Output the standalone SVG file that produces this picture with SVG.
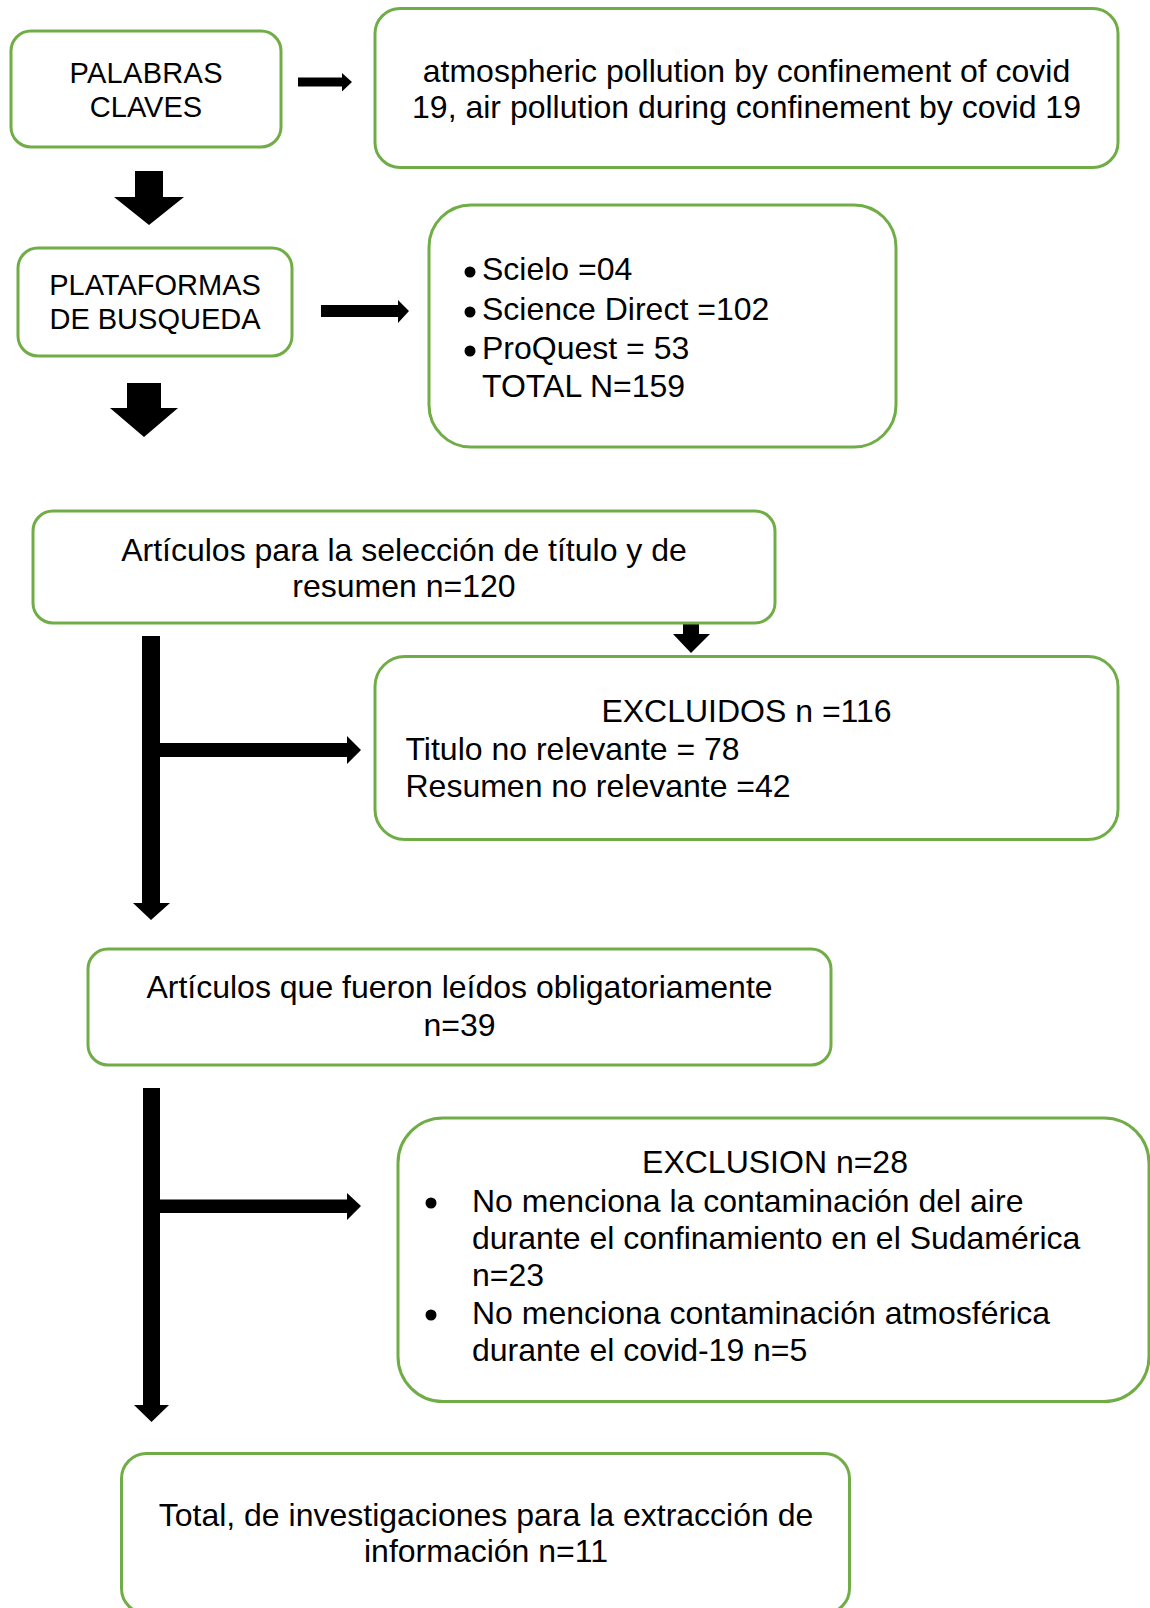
<svg xmlns="http://www.w3.org/2000/svg" width="1150" height="1608" viewBox="0 0 1150 1608">
<style>
.box{fill:#ffffff;stroke:#70AD47;stroke-width:3}
text{font-family:"Liberation Sans",Arial,sans-serif;fill:#000000}
.t32{font-size:32px}
.t29{font-size:29px}
.c{text-anchor:middle}
.arr{fill:#000000}
</style>
<rect width="1150" height="1608" fill="#ffffff"/>
<g id="connectors">
<polygon class="arr" points="298,77.5 342,77.5 342,73 352,82 342,91.5 342,86.5 298,86.5"/>
<polygon class="arr" points="135,171 163,171 163,197 184,197 149,225 114,197 135,197"/>
<polygon class="arr" points="321,305 398,305 398,300 409,311 398,323 398,317 321,317"/>
<polygon class="arr" points="127,383 161,383 161,408 178,408 144,437 110,408 127,408"/>
<polygon class="arr" points="683,617 699,617 699,634 710,634 691,653 673,634 683,634"/>
<polygon class="arr" points="142,636 160,636 160,743 347,743 347,736 361,750 347,764 347,757 160,757 160,903 170,903 151,920 133,903 142,903"/>
<polygon class="arr" points="143,1088 160,1088 160,1199.5 347,1199.5 347,1193 361,1206 347,1220 347,1213 160,1213 160,1405 169,1405 151.5,1422 134,1405 143,1405"/>
</g>
<g id="palabras">
<rect class="box" x="11" y="31" width="270" height="116" rx="20"/>
<text class="t29 c" x="146" y="83" textLength="153" lengthAdjust="spacing">PALABRAS</text>
<text class="t29 c" x="146" y="117">CLAVES</text>
</g>
<g id="keywords">
<rect class="box" x="375" y="8.5" width="743" height="159" rx="25"/>
<text class="t32 c" x="746.5" y="82">atmospheric pollution by confinement of covid</text>
<text class="t32 c" x="746.5" y="118">19, air pollution during confinement by covid 19</text>
</g>
<g id="plataformas">
<rect class="box" x="18" y="248" width="274" height="108" rx="20"/>
<text class="t29 c" x="155" y="295">PLATAFORMAS</text>
<text class="t29 c" x="155" y="329">DE BUSQUEDA</text>
</g>
<g id="bases">
<rect class="box" x="429" y="205" width="467" height="242" rx="42"/>
<circle cx="470" cy="272" r="5.5"/>
<circle cx="470" cy="312" r="5.5"/>
<circle cx="470" cy="351" r="5.5"/>
<text class="t32" x="482" y="280">Scielo =04</text>
<text class="t32" x="482" y="320">Science Direct =102</text>
<text class="t32" x="482" y="359">ProQuest = 53</text>
<text class="t32" x="482" y="397">TOTAL N=159</text>
</g>
<g id="seleccion">
<rect class="box" x="33" y="511" width="742" height="112" rx="20"/>
<text class="t32 c" x="404" y="561">Artículos para la selección de título y de</text>
<text class="t32 c" x="404" y="597">resumen n=120</text>
</g>
<g id="excluidos">
<rect class="box" x="375" y="656.5" width="743" height="183" rx="30"/>
<text class="t32 c" x="746.5" y="722">EXCLUIDOS n =116</text>
<text class="t32" x="405.5" y="759.5">Titulo no relevante = 78</text>
<text class="t32" x="405.5" y="796.5">Resumen no relevante =42</text>
</g>
<g id="leidos">
<rect class="box" x="88" y="949" width="743" height="116" rx="20"/>
<text class="t32 c" x="459.5" y="998">Artículos que fueron leídos obligatoriamente</text>
<text class="t32 c" x="459.5" y="1036">n=39</text>
</g>
<g id="exclusion">
<rect class="box" x="398" y="1118" width="751" height="283.5" rx="45"/>
<text class="t32 c" x="775" y="1173">EXCLUSION n=28</text>
<circle cx="431" cy="1203" r="5.5"/>
<circle cx="431" cy="1315" r="5.5"/>
<text class="t32" x="472" y="1211.5">No menciona la contaminación del aire</text>
<text class="t32" x="472" y="1248.5">durante el confinamiento en el Sudamérica</text>
<text class="t32" x="472" y="1285.5">n=23</text>
<text class="t32" x="472" y="1324">No menciona contaminación atmosférica</text>
<text class="t32" x="472" y="1361">durante el covid-19 n=5</text>
</g>
<g id="total">
<rect class="box" x="121.5" y="1453.5" width="728" height="160" rx="25"/>
<text class="t32 c" x="486" y="1526">Total, de investigaciones para la extracción de</text>
<text class="t32 c" x="486" y="1562">información n=11</text>
</g>
</svg>
